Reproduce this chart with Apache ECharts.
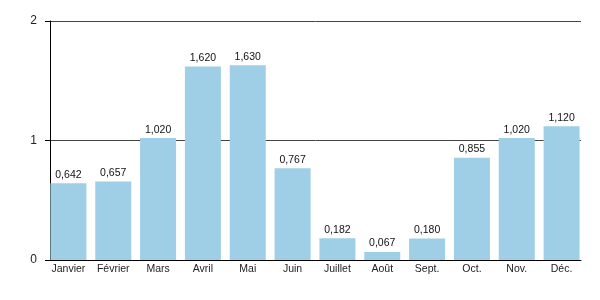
<!DOCTYPE html>
<html><head><meta charset="utf-8">
<script src="https://cdn.jsdelivr.net/npm/echarts@6/dist/echarts.min.js"></script>
<style>html,body{margin:0;padding:0;background:#fff}#c{width:600px;height:300px}</style>
</head><body><div id="c"></div>
<script>
const categories = ["Janvier","Février","Mars","Avril","Mai","Juin","Juillet","Août","Sept.","Oct.","Nov.","Déc."];
const values = [0.642,0.657,1.02,1.62,1.63,0.767,0.182,0.067,0.18,0.855,1.02,1.12];
const yTicks = [0,1,2];
const font = 'Liberation Sans, Arial, sans-serif';
const chart = echarts.init(document.getElementById('c'));
chart.setOption({
  animation:false,
  grid:[
    {left:46,right:16,top:21,bottom:40},
    {left:50,right:19,top:21,bottom:40}
  ],
  xAxis:[
    {type:'category',data:categories,gridIndex:0,
      axisLine:{show:false},axisTick:{show:false},
      axisLabel:{interval:0,color:'#222',fontFamily:font,fontSize:10.5,margin:4}},
    {type:'category',data:categories,gridIndex:1,
      axisLine:{lineStyle:{color:'#000',width:1}},axisTick:{show:false},axisLabel:{show:false}}
  ],
  yAxis:[
    {type:'value',min:0,max:2,interval:1,gridIndex:0,show:false},
    {type:'value',min:0,max:2,interval:1,gridIndex:1,
      axisLine:{show:true,lineStyle:{color:'#000'}},
      axisTick:{show:true,length:5,lineStyle:{color:'#000'}},
      splitLine:{lineStyle:{color:'#444'}},
      axisLabel:{color:'#222',fontFamily:font,fontSize:12,margin:13,
        formatter:v=>yTicks.includes(v)?String(v):''}}
  ],
  series:[{type:'bar',data:values,xAxisIndex:0,yAxisIndex:0,barCategoryGap:'19.7%',z:1,
    itemStyle:{color:'#9ecfe6'},
    label:{show:true,position:'top',distance:3,color:'#111',fontFamily:font,fontSize:10.5,
      formatter:p=>p.value.toFixed(3).replace('.',',')}}]
});
</script></body></html>
